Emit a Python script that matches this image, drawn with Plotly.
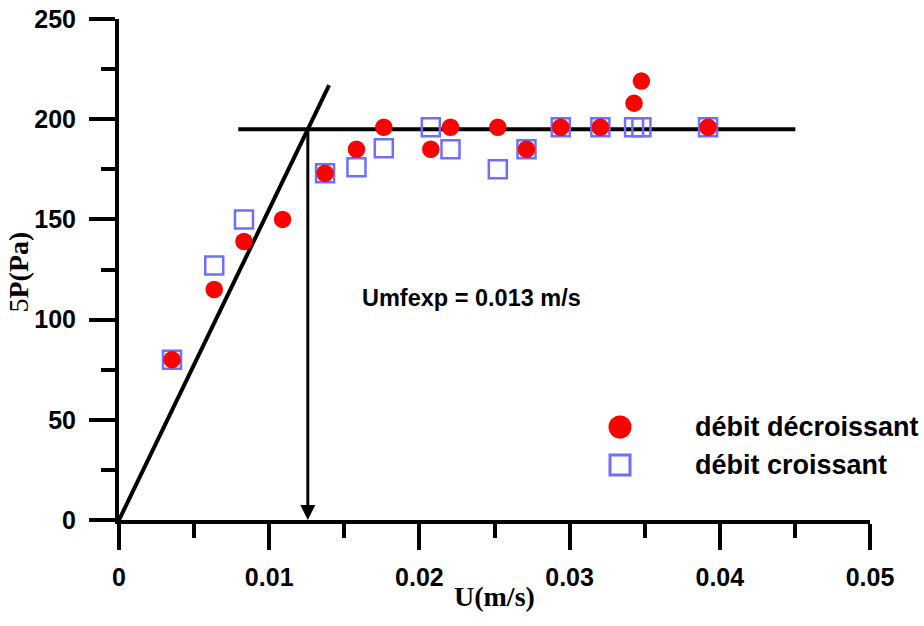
import plotly.graph_objects as go

# Pressure drop vs superficial velocity (decreasing / increasing flow)
u_dec = [0.00353, 0.00634, 0.00832, 0.01089, 0.01372, 0.01581, 0.01763, 0.02076,
         0.02207, 0.02522, 0.02713, 0.02941, 0.03205, 0.03429, 0.03478, 0.03922]
dp_dec = [80, 115, 139, 150, 173, 185, 196, 185, 196, 196, 185, 196, 196, 208, 219, 196]

u_inc = [0.00353, 0.00634, 0.00832, 0.01372, 0.01581, 0.01763, 0.02076, 0.02207,
         0.02522, 0.02713, 0.02941, 0.03205, 0.03429, 0.03478, 0.03922]
dp_inc = [80, 127, 150, 173, 176, 185.5, 196, 185, 175, 185, 196, 196, 196, 196, 196]

# Fixed-bed line and plateau line
bed_u = [0.0, 0.01399]
bed_dp = [0.0, 217.0]
plateau_u = [0.00794, 0.04503]
plateau_dp = 195.0

x_ticks = [0, 0.01, 0.02, 0.03, 0.04, 0.05]
x_tick_text = ["0", "0.01", "0.02", "0.03", "0.04", "0.05"]
y_ticks = [0, 50, 100, 150, 200, 250]

series_names = ["débit décroissant", "débit croissant"]
dec_color = "#FF0000"
inc_color = "#6E6EFF"

# Minimum fluidisation velocity = intersection of the two lines
slope = bed_dp[1] / bed_u[1]
u_mf = plateau_dp / slope

label_font = "Liberation Sans, Arial, sans-serif"
title_font = "Liberation Serif, Times New Roman, serif"

# Page geometry (pixels) used to place legend/titles in paper coordinates
W, H = 924, 626
ML, MR, MT, MB = 119, 54, 19, 106
PW, PH = W - ML - MR, H - MT - MB


def px_x(px):
    return (px - ML) / PW


def px_y(py):
    return (H - MB - py) / PH


fig = go.Figure()

fig.add_trace(go.Scatter(x=bed_u, y=bed_dp, mode="lines",
                         line=dict(color="black", width=4), showlegend=False,
                         hoverinfo="skip"))
fig.add_trace(go.Scatter(x=plateau_u, y=[plateau_dp, plateau_dp], mode="lines",
                         line=dict(color="black", width=4), showlegend=False,
                         hoverinfo="skip"))

fig.add_trace(go.Scatter(x=u_inc, y=dp_inc, mode="markers", name=series_names[1],
                         showlegend=False,
                         marker=dict(symbol="square-open", size=18, color=inc_color,
                                     line=dict(width=2.5, color=inc_color))))
fig.add_trace(go.Scatter(x=u_dec, y=dp_dec, mode="markers", name=series_names[0],
                         showlegend=False,
                         marker=dict(symbol="circle", size=17.5, color=dec_color,
                                     line=dict(width=0))))

# Vertical arrow at Umf
fig.add_annotation(x=u_mf, y=0, ax=u_mf, ay=plateau_dp, xref="x", yref="y",
                   axref="x", ayref="y", showarrow=True, arrowhead=2,
                   arrowsize=1, arrowwidth=3, arrowcolor="black", text="")

fig.add_annotation(x=0.01603, y=111, xref="x", yref="y", xanchor="left",
                   yanchor="middle", showarrow=False,
                   text="Umfexp = 0.013 m/s",
                   font=dict(family=label_font, size=23.5, color="black", weight="bold"))

# Axis titles
fig.add_annotation(x=px_x(494), y=px_y(614), xref="paper", yref="paper",
                   showarrow=False, text="<b>U(m/s)</b>",
                   font=dict(family=title_font, size=28, color="black"))
fig.add_annotation(x=px_x(10), y=px_y(272), xref="paper", yref="paper",
                   xshift=-10, showarrow=False, textangle=-90,
                   text="5<b>P(Pa)</b>",
                   font=dict(family=title_font, size=28, color="black"))

# Legend keys and labels
key_x, key_r = 620, 11.5
rows = [427, 465]
fig.add_shape(type="circle", xref="paper", yref="paper",
              x0=px_x(key_x - key_r), x1=px_x(key_x + key_r),
              y0=px_y(rows[0] + key_r), y1=px_y(rows[0] - key_r),
              fillcolor=dec_color, line=dict(width=0))
fig.add_shape(type="rect", xref="paper", yref="paper",
              x0=px_x(key_x - key_r + 1.5), x1=px_x(key_x + key_r - 1.5),
              y0=px_y(rows[1] + key_r - 1.5), y1=px_y(rows[1] - key_r + 1.5),
              fillcolor="rgba(0,0,0,0)", line=dict(width=3, color=inc_color))
for name, ry in zip(series_names, rows):
    fig.add_annotation(x=px_x(693), y=px_y(ry), xref="paper", yref="paper",
                       xanchor="left", yanchor="middle", showarrow=False,
                       text=name,
                       font=dict(family=label_font, size=27, color="black",
                                 weight="bold"))

axis_common = dict(
    showgrid=False, zeroline=False, showline=True, linecolor="black", linewidth=4,
    ticks="outside", ticklen=26, tickwidth=4, tickcolor="black",
    tickfont=dict(family=label_font, size=25, color="black", weight="bold"),
)

fig.update_xaxes(range=[0, 0.05], tickvals=x_ticks, ticktext=x_tick_text,
                 ticklabelstandoff=6,
                 minor=dict(dtick=0.005, ticklen=14, tickwidth=4, ticks="outside",
                            tickcolor="black"),
                 **axis_common)
fig.update_yaxes(range=[0, 250], tickvals=y_ticks, ticklabelstandoff=8,
                 minor=dict(dtick=25, ticklen=14, tickwidth=4, ticks="outside",
                            tickcolor="black"),
                 **axis_common)

fig.update_layout(
    width=W, height=H,
    margin=dict(l=ML, r=MR, t=MT, b=MB, autoexpand=False),
    plot_bgcolor="white", paper_bgcolor="white",
    showlegend=False,
)

fig.write_html("out.html")
